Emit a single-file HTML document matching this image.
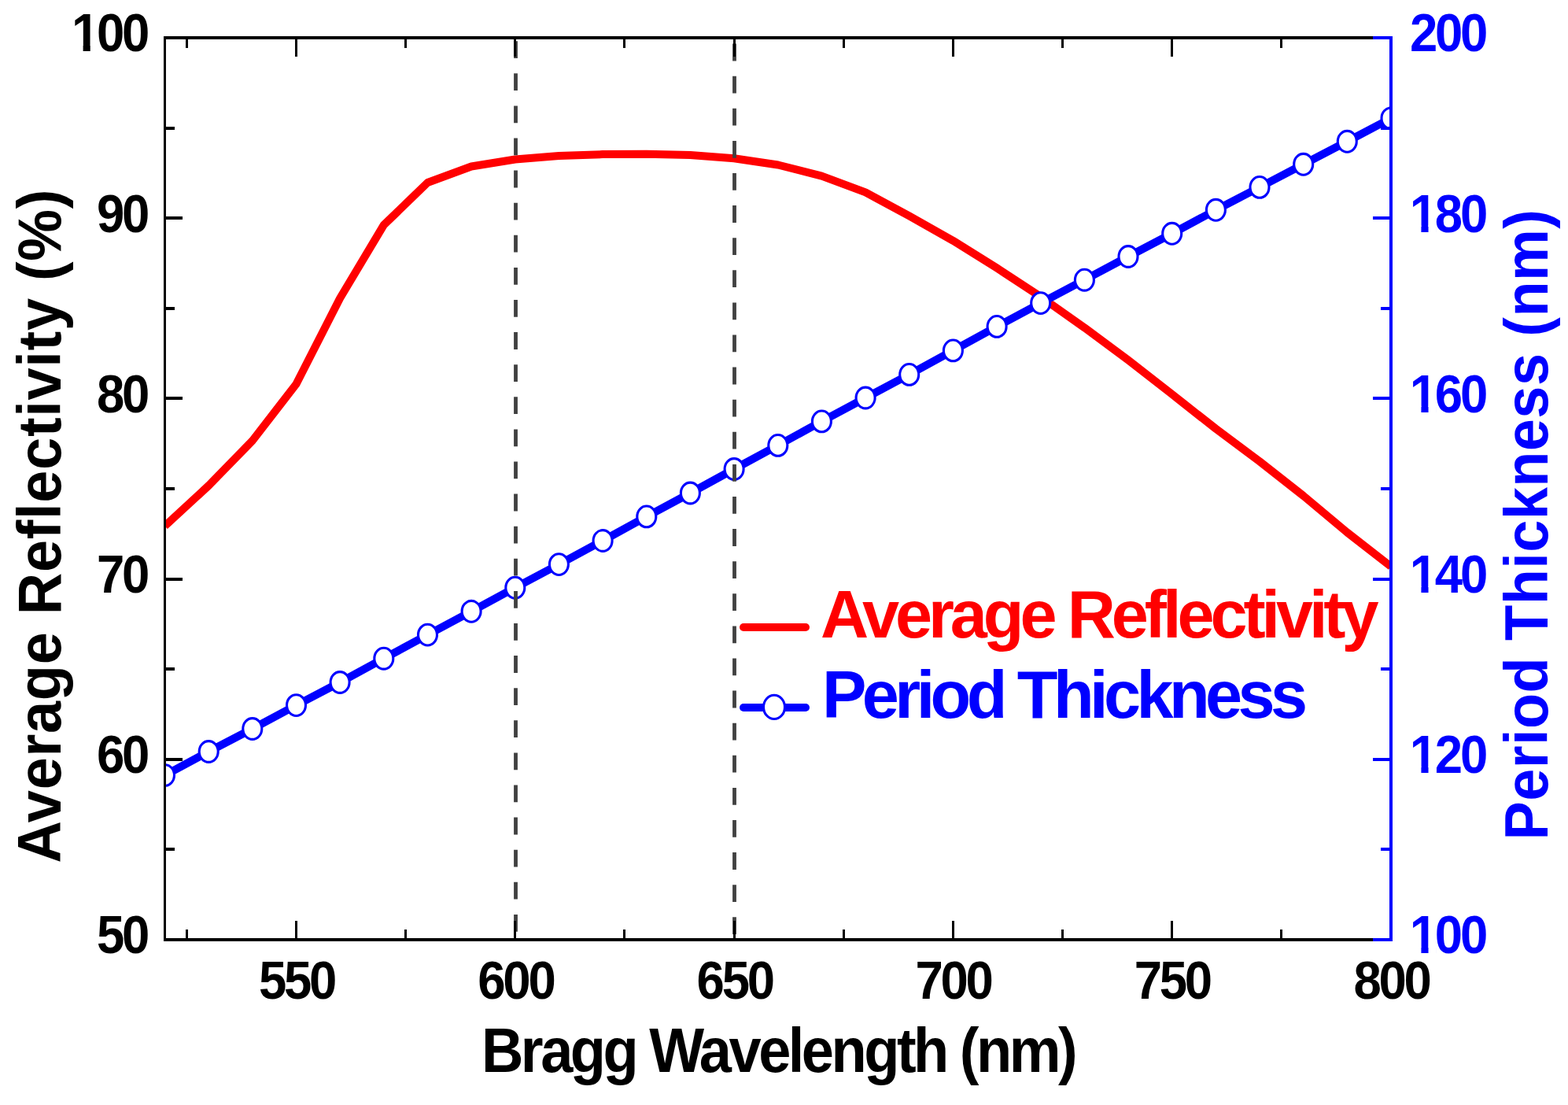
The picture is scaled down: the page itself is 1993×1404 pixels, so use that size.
<!DOCTYPE html><html><head><meta charset="utf-8"><title>Bragg Wavelength chart</title>
<style>html,body{margin:0;padding:0;background:#fff;overflow:hidden}svg{display:block}text{font-family:"Liberation Sans",Arial,sans-serif;font-weight:bold}</style></head><body>
<svg width="1993" height="1404" viewBox="0 0 1993 1404">
<rect width="1993" height="1404" fill="#fff"/>
<defs><clipPath id="pa"><rect x="211" y="50" width="1555" height="1142"/></clipPath></defs>
<g clip-path="url(#pa)" fill="none" stroke-linejoin="round">
<polyline points="209.5,668.4 265.2,617.0 320.8,560.0 376.5,488.0 432.1,379.0 487.8,285.9 543.5,232.0 599.1,211.5 654.8,202.5 710.4,198.1 766.1,196.1 821.8,195.8 877.4,197.0 933.1,201.2 988.8,209.5 1044.4,223.6 1100.1,244.4 1155.7,274.4 1211.4,305.8 1267.1,340.6 1322.7,377.0 1378.4,416.3 1434.0,457.6 1489.7,500.9 1545.4,544.8 1601.0,586.3 1656.7,630.0 1712.3,676.5 1768.0,719.8" stroke="#ff0000" stroke-width="10"/>
<polyline points="209.5,985.0 265.2,955.0 320.8,926.0 376.5,896.1 432.1,867.0 487.8,836.7 543.5,806.6 599.1,776.8 654.8,746.7 710.4,717.1 766.1,687.0 821.8,656.4 877.4,626.5 933.1,596.0 988.8,565.9 1044.4,535.4 1100.1,505.5 1155.7,475.9 1211.4,445.4 1267.1,414.9 1322.7,385.1 1378.4,355.7 1434.0,326.0 1489.7,296.8 1545.4,266.8 1601.0,237.9 1656.7,208.8 1712.3,179.8 1768.0,150.3" stroke="#0000ff" stroke-width="10"/>
<ellipse cx="209.5" cy="985.0" rx="12" ry="13.4" fill="#fff" stroke="#0000ff" stroke-width="3.1"/>
<ellipse cx="265.2" cy="955.0" rx="12" ry="13.4" fill="#fff" stroke="#0000ff" stroke-width="3.1"/>
<ellipse cx="320.8" cy="926.0" rx="12" ry="13.4" fill="#fff" stroke="#0000ff" stroke-width="3.1"/>
<ellipse cx="376.5" cy="896.1" rx="12" ry="13.4" fill="#fff" stroke="#0000ff" stroke-width="3.1"/>
<ellipse cx="432.1" cy="867.0" rx="12" ry="13.4" fill="#fff" stroke="#0000ff" stroke-width="3.1"/>
<ellipse cx="487.8" cy="836.7" rx="12" ry="13.4" fill="#fff" stroke="#0000ff" stroke-width="3.1"/>
<ellipse cx="543.5" cy="806.6" rx="12" ry="13.4" fill="#fff" stroke="#0000ff" stroke-width="3.1"/>
<ellipse cx="599.1" cy="776.8" rx="12" ry="13.4" fill="#fff" stroke="#0000ff" stroke-width="3.1"/>
<ellipse cx="654.8" cy="746.7" rx="12" ry="13.4" fill="#fff" stroke="#0000ff" stroke-width="3.1"/>
<ellipse cx="710.4" cy="717.1" rx="12" ry="13.4" fill="#fff" stroke="#0000ff" stroke-width="3.1"/>
<ellipse cx="766.1" cy="687.0" rx="12" ry="13.4" fill="#fff" stroke="#0000ff" stroke-width="3.1"/>
<ellipse cx="821.8" cy="656.4" rx="12" ry="13.4" fill="#fff" stroke="#0000ff" stroke-width="3.1"/>
<ellipse cx="877.4" cy="626.5" rx="12" ry="13.4" fill="#fff" stroke="#0000ff" stroke-width="3.1"/>
<ellipse cx="933.1" cy="596.0" rx="12" ry="13.4" fill="#fff" stroke="#0000ff" stroke-width="3.1"/>
<ellipse cx="988.8" cy="565.9" rx="12" ry="13.4" fill="#fff" stroke="#0000ff" stroke-width="3.1"/>
<ellipse cx="1044.4" cy="535.4" rx="12" ry="13.4" fill="#fff" stroke="#0000ff" stroke-width="3.1"/>
<ellipse cx="1100.1" cy="505.5" rx="12" ry="13.4" fill="#fff" stroke="#0000ff" stroke-width="3.1"/>
<ellipse cx="1155.7" cy="475.9" rx="12" ry="13.4" fill="#fff" stroke="#0000ff" stroke-width="3.1"/>
<ellipse cx="1211.4" cy="445.4" rx="12" ry="13.4" fill="#fff" stroke="#0000ff" stroke-width="3.1"/>
<ellipse cx="1267.1" cy="414.9" rx="12" ry="13.4" fill="#fff" stroke="#0000ff" stroke-width="3.1"/>
<ellipse cx="1322.7" cy="385.1" rx="12" ry="13.4" fill="#fff" stroke="#0000ff" stroke-width="3.1"/>
<ellipse cx="1378.4" cy="355.7" rx="12" ry="13.4" fill="#fff" stroke="#0000ff" stroke-width="3.1"/>
<ellipse cx="1434.0" cy="326.0" rx="12" ry="13.4" fill="#fff" stroke="#0000ff" stroke-width="3.1"/>
<ellipse cx="1489.7" cy="296.8" rx="12" ry="13.4" fill="#fff" stroke="#0000ff" stroke-width="3.1"/>
<ellipse cx="1545.4" cy="266.8" rx="12" ry="13.4" fill="#fff" stroke="#0000ff" stroke-width="3.1"/>
<ellipse cx="1601.0" cy="237.9" rx="12" ry="13.4" fill="#fff" stroke="#0000ff" stroke-width="3.1"/>
<ellipse cx="1656.7" cy="208.8" rx="12" ry="13.4" fill="#fff" stroke="#0000ff" stroke-width="3.1"/>
<ellipse cx="1712.3" cy="179.8" rx="12" ry="13.4" fill="#fff" stroke="#0000ff" stroke-width="3.1"/>
<ellipse cx="1768.0" cy="150.3" rx="12" ry="13.4" fill="#fff" stroke="#0000ff" stroke-width="3.1"/>
</g>
<path d="M655.5 52.2V1192" stroke="#404040" stroke-width="4.8" stroke-dasharray="21.8 19.3" fill="none"/>
<path d="M933.5 55.6V1192" stroke="#404040" stroke-width="4.8" stroke-dasharray="21.8 19.3" fill="none"/>
<g fill="#000" shape-rendering="crispEdges">
<rect x="208" y="46" width="1560" height="4"/>
<rect x="208" y="1192" width="1560" height="4"/>
<rect x="208" y="46" width="3" height="1150"/>
<rect x="235.8" y="1181" width="3" height="11"/>
<rect x="235.8" y="50" width="3" height="11"/>
<rect x="375.0" y="1170" width="3" height="22"/>
<rect x="375.0" y="50" width="3" height="22"/>
<rect x="514.1" y="1181" width="3" height="11"/>
<rect x="514.1" y="50" width="3" height="11"/>
<rect x="653.3" y="1170" width="3" height="22"/>
<rect x="653.3" y="50" width="3" height="22"/>
<rect x="792.4" y="1181" width="3" height="11"/>
<rect x="792.4" y="50" width="3" height="11"/>
<rect x="931.6" y="1170" width="3" height="22"/>
<rect x="931.6" y="50" width="3" height="22"/>
<rect x="1070.7" y="1181" width="3" height="11"/>
<rect x="1070.7" y="50" width="3" height="11"/>
<rect x="1209.9" y="1170" width="3" height="22"/>
<rect x="1209.9" y="50" width="3" height="22"/>
<rect x="1349.0" y="1181" width="3" height="11"/>
<rect x="1349.0" y="50" width="3" height="11"/>
<rect x="1488.2" y="1170" width="3" height="22"/>
<rect x="1488.2" y="50" width="3" height="22"/>
<rect x="1627.3" y="1181" width="3" height="11"/>
<rect x="1627.3" y="50" width="3" height="11"/>
<rect x="211" y="1077.4" width="11" height="4"/>
<rect x="211" y="962.8" width="21" height="4"/>
<rect x="211" y="848.2" width="11" height="4"/>
<rect x="211" y="733.6" width="21" height="4"/>
<rect x="211" y="619.0" width="11" height="4"/>
<rect x="211" y="504.4" width="21" height="4"/>
<rect x="211" y="389.8" width="11" height="4"/>
<rect x="211" y="275.2" width="21" height="4"/>
<rect x="211" y="160.6" width="11" height="4"/>
</g>
<g fill="#0000ff" shape-rendering="crispEdges">
<rect x="1766" y="46" width="4" height="1150"/>
<rect x="1745" y="1192.0" width="21" height="4"/>
<rect x="1755" y="1077.4" width="11" height="4"/>
<rect x="1745" y="962.8" width="21" height="4"/>
<rect x="1755" y="848.2" width="11" height="4"/>
<rect x="1745" y="733.6" width="21" height="4"/>
<rect x="1755" y="619.0" width="11" height="4"/>
<rect x="1745" y="504.4" width="21" height="4"/>
<rect x="1755" y="389.8" width="11" height="4"/>
<rect x="1745" y="275.2" width="21" height="4"/>
<rect x="1755" y="160.6" width="11" height="4"/>
<rect x="1745" y="46.0" width="21" height="4"/>
</g>
<text transform="translate(123.00,1211.40) scale(1,1.068)" font-size="63.5" letter-spacing="-3.25" fill="#000">50</text>
<text transform="translate(123.00,982.20) scale(1,1.068)" font-size="63.5" letter-spacing="-3.25" fill="#000">60</text>
<text transform="translate(123.00,753.00) scale(1,1.068)" font-size="63.5" letter-spacing="-3.25" fill="#000">70</text>
<text transform="translate(123.00,523.80) scale(1,1.068)" font-size="63.5" letter-spacing="-3.25" fill="#000">80</text>
<text transform="translate(123.00,294.60) scale(1,1.068)" font-size="63.5" letter-spacing="-3.25" fill="#000">90</text>
<text transform="translate(91.00,65.40) scale(1,1.068)" font-size="63.5" letter-spacing="-3.25" fill="#000">100</text>
<text transform="translate(1791.80,1211.40) scale(1,1.068)" font-size="63.5" letter-spacing="-3.25" fill="#0000ff">100</text>
<text transform="translate(1791.80,982.20) scale(1,1.068)" font-size="63.5" letter-spacing="-3.25" fill="#0000ff">120</text>
<text transform="translate(1791.80,753.00) scale(1,1.068)" font-size="63.5" letter-spacing="-3.25" fill="#0000ff">140</text>
<text transform="translate(1791.80,523.80) scale(1,1.068)" font-size="63.5" letter-spacing="-3.25" fill="#0000ff">160</text>
<text transform="translate(1791.80,294.60) scale(1,1.068)" font-size="63.5" letter-spacing="-3.25" fill="#0000ff">180</text>
<text transform="translate(1792.00,65.40) scale(1,1.068)" font-size="63.5" letter-spacing="-3.25" fill="#0000ff">200</text>
<text transform="translate(328.98,1269.00) scale(1,1.068)" font-size="63.5" letter-spacing="-3.25" fill="#000">550</text>
<text transform="translate(607.29,1269.00) scale(1,1.068)" font-size="63.5" letter-spacing="-3.25" fill="#000">600</text>
<text transform="translate(885.59,1269.00) scale(1,1.068)" font-size="63.5" letter-spacing="-3.25" fill="#000">650</text>
<text transform="translate(1163.39,1269.00) scale(1,1.068)" font-size="63.5" letter-spacing="-3.25" fill="#000">700</text>
<text transform="translate(1441.70,1269.00) scale(1,1.068)" font-size="63.5" letter-spacing="-3.25" fill="#000">750</text>
<text transform="translate(1720.50,1269.00) scale(1,1.068)" font-size="63.5" letter-spacing="-3.25" fill="#000">800</text>
<text transform="translate(611.90,1362.00) scale(1,1.065)" font-size="74" letter-spacing="-3.5" fill="#000">Bragg Wavelength (nm)</text>
<text transform="translate(77.15,1096.50) rotate(-90) scale(1,1.061)" font-size="74" letter-spacing="0.68" fill="#000">Average Reflectivity (%)</text>
<text transform="translate(1967.10,1067.45) rotate(-90) scale(1,1.063)" font-size="74" letter-spacing="0.385" fill="#0000ff">Period Thickness (nm)</text>
<text transform="translate(1043.00,810.00) scale(1,1.017)" font-size="84.7" letter-spacing="-5.1" fill="#ff0000">Average Reflectivity</text>
<text transform="translate(1044.95,911.80) scale(1,1.017)" font-size="84.7" letter-spacing="-5.6" fill="#0000ff">Period Thickness</text>
<rect x="94.10" y="57.48" width="11.52" height="8.82" fill="#fff"/>
<rect x="114.73" y="57.48" width="10.37" height="8.82" fill="#fff"/>
<rect x="1794.90" y="1203.48" width="11.52" height="8.82" fill="#fff"/>
<rect x="1815.53" y="1203.48" width="10.37" height="8.82" fill="#fff"/>
<rect x="1794.90" y="974.28" width="11.52" height="8.82" fill="#fff"/>
<rect x="1815.53" y="974.28" width="10.37" height="8.82" fill="#fff"/>
<rect x="1794.90" y="745.08" width="11.52" height="8.82" fill="#fff"/>
<rect x="1815.53" y="745.08" width="10.37" height="8.82" fill="#fff"/>
<rect x="1794.90" y="515.88" width="11.52" height="8.82" fill="#fff"/>
<rect x="1815.53" y="515.88" width="10.37" height="8.82" fill="#fff"/>
<rect x="1794.90" y="286.68" width="11.52" height="8.82" fill="#fff"/>
<rect x="1815.53" y="286.68" width="10.37" height="8.82" fill="#fff"/>
<line x1="945" y1="797" x2="1024" y2="797" stroke="#ff0000" stroke-width="10" stroke-linecap="round"/>
<line x1="945" y1="899" x2="1024" y2="899" stroke="#0000ff" stroke-width="10" stroke-linecap="round"/>
<ellipse cx="984" cy="898.4" rx="13.5" ry="15.1" fill="#fff" stroke="#0000ff" stroke-width="3.1"/>
</svg></body></html>
